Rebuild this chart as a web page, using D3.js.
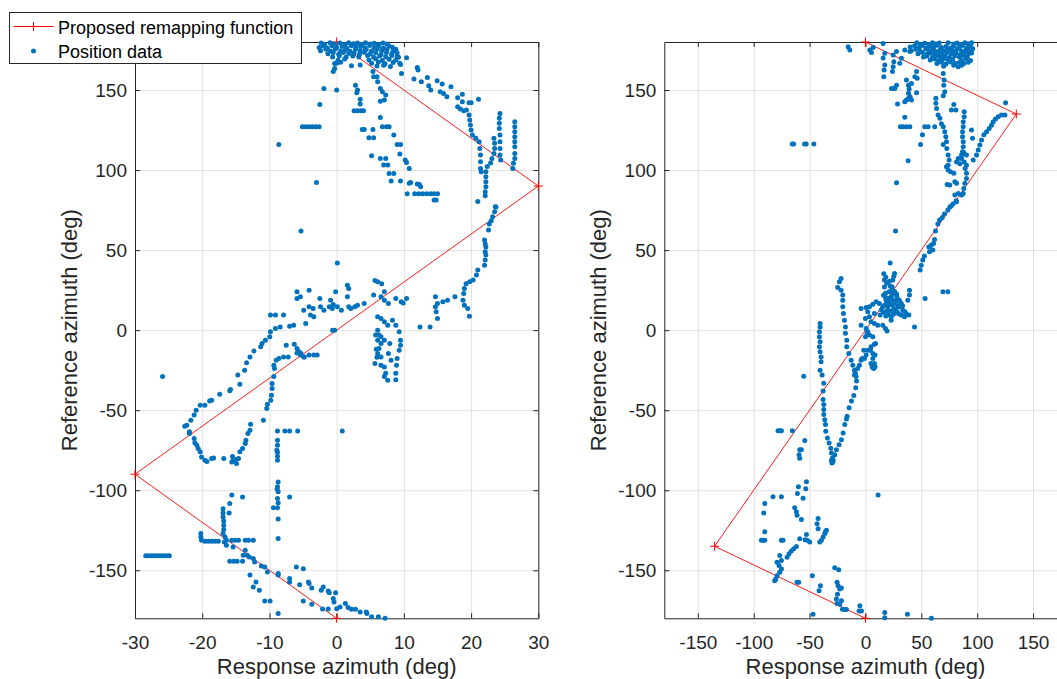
<!DOCTYPE html>
<html>
<head>
<meta charset="utf-8">
<script src="https://cdn.jsdelivr.net/npm/d3@7"></script>
<style>
  body { margin: 0; background: #fff; }
  svg { display: block; font-family: "Liberation Sans", Arial, Helvetica, sans-serif; }
</style>
</head>
<body>
<svg id="chart" width="1057" height="679"></svg>
<script>
// tick values
var yTicks = [-150, -100, -50, 0, 50, 100, 150];
var leftXTicks = [-30, -20, -10, 0, 10, 20, 30];
var rightXTicks = [-150, -100, -50, 0, 50, 100, 150];

// proposed remapping function (corner points)
var leftRemapX = [0, 30, -30, 0];
var leftRemapY = [180, 90, -90, -180];
var rightRemapX = [0, 135, -135, 0];
var rightRemapY = [180, 135, -135, -180];

// position data, left panel [response, reference]
var leftData = [
  // dense cluster near the top
  [-2.3,179.3],[-1.8,178.6],[-1.0,179.5],[-0.3,178.8],[0.5,179.4],[1.2,178.5],[1.8,179.6],[2.5,178.9],[3.1,179.3],[3.7,178.4],[4.3,179.5],[5.0,178.7],[5.6,179.2],[6.2,178.5],[6.9,179.4],[7.5,178.8],
  [-2.6,176.6],[-2.0,177.5],[-1.4,176.3],[-0.7,177.7],[0.0,176.5],[0.8,177.3],[1.5,176.2],[2.2,177.6],[2.9,176.8],[3.6,177.4],[4.2,176.4],[4.9,177.8],[5.6,176.6],[6.3,177.2],[7.0,176.3],[7.8,177.5],[8.3,176.7],
  [-2.4,174.5],[-1.6,175.4],[-0.9,174.3],[-0.2,175.6],[0.6,174.6],[1.3,175.2],[2.0,174.2],[2.8,175.5],[3.5,174.7],[4.4,175.3],[5.2,174.4],[6.0,175.7],[6.7,174.5],[7.5,175.2],[8.4,174.3],[8.8,175.5],
  [-1.3,172.6],[-0.5,173.4],[0.3,172.3],[1.0,173.5],[1.8,172.8],[2.6,173.2],[3.4,172.4],[4.1,173.6],[5.0,172.7],[5.8,173.3],[6.6,172.2],[7.4,173.4],[8.2,172.6],[9.0,173.2],
  [-0.6,170.7],[0.4,171.4],[1.4,170.5],[2.4,171.3],[3.3,170.6],[4.6,171.5],[5.5,170.4],[6.4,171.2],[7.3,170.8],[8.2,171.6],[9.2,170.5],
  [0.2,168.6],[1.2,169.4],[4.8,168.7],[5.8,169.5],[6.8,168.4],[7.8,169.3],[8.8,168.8],
  [-0.3,166.6],[0.6,167.4],[5.2,166.8],[6.2,167.5],[7.2,166.4],[8.4,167.2],[9.4,166.7],
  [2.2,165.2],[3.5,165.6],[6.0,165],[7.0,165.4],[8.0,164.7],
  [10.4,170.2],[9.0,170.8],[9.5,166],[9.65,160.4],[-0.5,161.5],[0,166.7],[-0.3,163.5],
  // first descending column
  [5.4,161.5],[5.5,158.3],[6.0,158.3],[6.1,155.2],[6.5,151],[6.8,149],[7.3,146.9],[7.1,143.75],[6.5,143],[6.5,132.9],
  [6.8,127],[7.4,127.1],[7.8,127],[8.5,121.9],[9,116],[9.5,116],[9.4,110],[10.2,106.25],[10.4,104.8],[10.8,101],
  [11,92.3],[10.8,91.8],[12,91.3],[12.3,91],[12.5,89.6],[10.5,85.2],[11.6,85.2],[12.2,85.2],[12.8,85.2],[13.4,85.2],[14,85.2],[14.5,85.2],[15,85.2],[14.5,81.25],[14.8,81.25],
  // second descending column
  [2.8,153],[3.1,150],[3.0,148.3],[3.5,144.2],[3.5,141.25],[2.6,137.1],[3.1,137.1],[3.6,137.1],[4.0,137.1],
  [3.8,125.4],[4.1,125.4],[5.4,125.4],[4.8,120.2],[5.5,120.2],[5.2,109],[6.5,107.3],[7.3,107.3],[7.0,103.1],[7.6,103.1],
  [7.8,97.9],[8.5,97.9],[8.1,93.1],[9.5,93.1],
  // scattered upper left
  [-5.1,127],[-4.6,127],[-4.1,127],[-3.6,127],[-3.1,127],[-2.6,127],[-2.5,141],[-1.9,151],[-3.0,92.3],[0,150],[-8.6,116],[-5.3,62],
  // group right of the cluster
  [12,164],[12.1,162.5],[11.5,156.9],[12.6,155.2],[13.5,157.9],[13.7,152.7],[14,150],[14.95,155.8],[15.7,153.75],[15.4,149],
  [15.9,147.9],[16.4,145.8],[17.0,152],[18,145.2],[18.7,147.3],[18.7,142.7],[18,139.6],[18.4,138.1],[18.9,137.1],[19.3,137.5],
  [19.7,142],[20,142],[21.1,144.2],
  // vertical columns near the right edge
  [19.7,134.4],[19.8,131.3],[19.9,128.1],[20,125],[20.2,121.9],[20.7,119.8],[21.2,117.7],[21.3,113.5],[21.4,109.4],[21.4,105.2],[21.4,101],[21.5,99],
  [22.2,99],[22.2,95.8],[22.2,92.7],[22.2,89.6],[22.1,86.5],[22.1,84],
  [22.4,102.3],[22.9,104.4],[23.1,107.3],[23.4,110.4],[23.5,113.5],[23.5,116.7],[23.4,119.8],
  [24.3,135.4],[24.2,132.3],[24.2,129.2],[24.2,126],[24.3,121.9],[24.3,117.7],[24.3,113.5],[24.3,109.4],[24.4,106.25],
  [26.5,130.2],[26.5,127.1],[26.5,124],[26.5,120.8],[26.5,117.7],[26.5,114.6],[26.5,110.4],[26.5,107.3],[26.3,104.2],[26.2,101],
  [23.6,77.1],[21.0,80.4],
  // band along the rising line
  [23.7,77],[23.5,74],[23.2,70.8],[23,68.3],[22.7,66.3],[22.6,62.5],[22,56.25],[22.1,54],[22.2,52],[22.1,49],[22.2,46.9],[22.1,43.75],[22,40.6],
  [21,37.5],[20.8,34.4],[20.3,31.3],[19.8,30.2],[19.25,29],[19,26],[18.9,22.9],[18.8,18.75],[19,15.6],[19.5,13.5],[19.75,8.75],
  [17.6,20.8],[16.5,18.75],[15.8,17.7],[15,16.7],[14.7,20.8],[14.7,14.6],[14.8,11.5],[15,7.3],[13.9,2],[12.4,2],
  // loop around x = 7
  [5.7,31],[6.1,30.2],[6.7,29],[5.5,21.9],[6.6,20.8],[7.1,18.75],[7.7,16.7],[7.1,24],[8.8,19.8],[9.6,17.7],[10.4,19.8],[9.9,17],
  [6.1,8.3],[6.6,7.3],[7.1,5.2],[7.6,3],[8.3,6.25],[8.8,3],[9.3,-1],[9.5,-6.25],[9.5,-9.4],[9.3,-12.5],[9,-17.7],[8.9,-21.9],[8.8,-27],[8.8,-31],
  [6.1,0],[6.3,-3],[6.1,-6.25],[6.6,-8.3],[6.3,-11.5],[6.1,-14.6],[6.6,-16.7],[5.7,-20.8],[6.6,-21.9],[7.1,-23],[7.3,-27],[7.6,-31.25],[7.1,-29],
  [5.8,-3],[6.6,-4.2],[7.1,-6.25],[7.9,-8.3],[7.7,-14.6],[8.1,-18.75],[5.9,-12],[6.0,-17],
  // cluster left of zero
  [-9.85,9.4],[-9.1,9.4],[-7.9,9.4],[-5.9,24],[-5.4,20.8],[-4.1,25],[-5.9,19.8],[-4.9,12.5],[-4.1,14.6],[-3.9,9.4],[-3.4,8.3],[-3.5,13.5],[-4.6,4.2],
  [-2.5,19.8],[-2.4,14.6],[-1.9,12.5],[-1.1,14.6],[-0.65,13.5],[-0.9,18.75],[-0.5,16],[-0.15,24],[0.1,14.6],[0.7,12.5],
  [1.6,28],[1.8,26],[1.6,20.8],[1.8,14.6],[2.1,13.5],[2.7,14.6],[3.1,15.6],[4.1,16.7],[-0.6,0],[-0.3,0],[0.1,42],
  // descending band to the left
  [-6.4,3],[-7,2.5],[-8.4,2],[-9.1,1],[-9.85,-1],[-9.95,-4.2],[-10.6,-6.25],[-11.1,-8.3],[-11.3,-10.4],[-12.3,-13],[-12.9,-16.7],
  [-13.4,-20.4],[-13.7,-25],[-14.7,-28],[-14.4,-33.75],[-15.8,-37],[-25.9,-29],
  [-7.5,-9.4],[-6.3,-8.75],[-5.9,-11.5],[-5.6,-13.5],[-5.4,-15.6],[-4.9,-16.7],[-4.1,-15.6],[-3.4,-15.6],[-2.9,-15.6],[-7.2,-16.7],
  [-7.9,-16.7],[-8.6,-17.7],[-9,-18.75],[-9.35,-21.9],[-9.25,-24],[-9.35,-29],[-9.6,-33.3],[-9.6,-36.5],[-5.9,-14.2],[-5.3,-14.6],[-4.8,-16.7],
  // loop lower left
  [-15.9,-37.9],[-17.4,-40],[-18.6,-43.75],[-18.9,-44.2],[-19.6,-46.9],[-20.3,-46.9],[-20.9,-50],[-21.2,-53],[-21.7,-56.25],[-22.3,-59.4],
  [-22.6,-60],[-21.9,-63.5],[-21.9,-64.6],[-21.2,-67.7],[-21.1,-70.4],[-20.8,-71.9],[-20.6,-74],[-20.3,-76],[-20.1,-79.2],[-19.6,-81.25],
  [-19.3,-82],[-18.6,-80.2],[-18.3,-79.8],[-16.8,-80.2],[-15.6,-82.3],[-15.4,-81.25],[-15,-80.8],[-14.6,-80.2],[-14.9,-83.3],[-15.5,-79],
  [-14.4,-76],[-14,-74],[-13.6,-70.8],[-13.5,-68.75],[-13.2,-64.6],[-12.9,-62.5],[-12.8,-58.75],[-10.9,-56.25],
  [-10.4,-49],[-10.3,-46.25],[-9.8,-43.75],[-9.7,-40.6],
  // vertical near x = -9
  [-8.8,-63],[-7.7,-63],[-7,-63],[-5.8,-63],[0.84,-63],[-8.8,-68.75],[-8.8,-71.9],[-8.9,-75],[-8.8,-76.3],[-8.8,-78.75],[-8.8,-81.25],
  [-8.7,-94.8],[-8.8,-97.9],[-8.85,-99.4],[-8.7,-101],[-8.8,-105.2],[-8.7,-108],[-9.4,-111],[-8.8,-111],[-8.7,-118],[-8.7,-130.2],
  [-7,-104.2],[-8.7,-153],[-8.7,-152],
  // lower group
  [-15.6,-103],[-15.9,-108.3],[-16,-114.2],[-14,-104.2],
  [-16.9,-111.5],[-16.9,-114.2],[-16.9,-116.7],[-16.8,-119.2],[-16.8,-121.9],[-16.8,-124.6],[-16.9,-127.1],[-16.6,-129.2],[-16.7,-132.3],[-16.4,-134.4],
  [-20.2,-127],[-20.2,-129.2],[-20.1,-131.25],[-19.6,-131.9],[-19.1,-131.9],[-18.6,-131.9],[-18.1,-131.9],[-17.6,-131.9],
  [-16.4,-131.25],[-15.6,-131.25],[-15.1,-131.25],[-14.6,-131.25],[-13.6,-131.25],[-13.1,-131.25],[-12.4,-131.25],
  [-15.4,-135.4],[-13.6,-137.5],[-13.3,-140.6],[-13.9,-140.6],[-15.9,-144.4],[-15.3,-144.4],[-14.8,-144.4],[-14,-144.4],
  [-13,-141.7],[-12.4,-142.7],[-12.2,-144.8],[-11.2,-147.3],[-10.7,-148],[-10.3,-151],
  [-28.4,-141],[-28,-141],[-27.6,-141],[-27.2,-141],[-26.8,-141],[-26.4,-141],[-26,-141],[-25.6,-141],[-25.2,-141],[-24.9,-141],
  [-12.9,-153],[-12,-157.3],[-12.4,-160.4],[-11.5,-162.5],[-10.7,-169.2],[-9.9,-169.2],[-7,-155.2],[-7,-157.3],[-6,-148],[-4.96,-149],
  [-5.5,-159],[-4.2,-157.3],[-4.1,-158.3],[-3.7,-161],[-4.96,-169.2],[-3.7,-171.25],[-2.3,-162.5],[-2,-160.4],[-1.25,-163],[-1.1,-164],
  [-0.15,-164],[-2.1,-174.2],[-1.25,-174.2],[-0.5,-167.7],[-0.4,-169.8],[0,-174],[0.5,-173],[1.3,-170.8],[1.7,-173.3],[2.2,-174.4],
  [2.8,-174.4],[3.5,-176],[4.4,-176],[4.5,-177],[5.2,-179],[6.2,-179],[7.2,-180],[-8.7,-177]
];

// position data, right panel [response, reference]
var rightData = [
  // dense cluster near the top
  [46,179.5],[49,178.6],[53,179.2],[57,178.4],[60,179.6],[63,178.8],[66,179.3],[74,179.6],[79,178.7],[82,179.4],[85,178.5],[89,179.5],[92,178.9],[95,179.6],
  [40,176.8],[44,177.6],[48,176.4],[51,177.8],[55,176.2],[58,177.5],[61,176.6],[64,177.9],[68,176.5],[72,177.2],[76,176.3],[79,177.7],[84,176.9],[87,177.8],[91,176.4],[94,177.3],
  [41,174.6],[45,175.4],[49,174.2],[54,175.6],[57,174.5],[60,175.3],[63,174.1],[67,175.5],[70,174.4],[74,175.2],[78,174.7],[82,175.7],[86,174.3],[90,175.1],[93,174.6],[96,175.8],
  [47,172.7],[51,173.5],[55,172.4],[58,173.2],[62,172.8],[65,173.6],[68,172.3],[73,173.4],[77,172.6],[81,173.3],[85,172.2],[89,173.5],[92,172.5],[95,173.1],
  [52,170.6],[55,171.3],[60,170.4],[64,171.5],[67,170.8],[71,171.2],[75,170.3],[80,171.4],[84,170.7],[88,171.6],[91,170.5],
  [58,168.7],[62,169.4],[66,168.5],[70,169.6],[74,168.8],[78,169.2],[86,168.6],[90,169.5],[94,168.4],
  [64,166.6],[68,167.3],[72,166.2],[76,167.5],[80,166.8],[84,167.2],[88,166.5],[92,167.4],
  [70,164.8],[79,165.4],[83,164.6],[86,165.5],
  // scattered upper left
  [-15.5,177],[-14,175],[3.9,175],[5.4,173.5],[6.9,176.6],[15.8,179],[17.3,173],[15.8,170],[17.3,165.6],[16.7,162.5],[16.4,158.3],
  [24.8,171.9],[25.4,167.7],[24.8,164.6],[24.2,161.5],[27.8,174],[32.2,169.8],[30.7,166.7],[35.2,175],[39.7,174],
  [45.7,161.5],[44.2,158.3],[46.3,157.3],[36.7,156.25],[38.5,153],[41.2,154],[39.1,150.6],[27.8,153],[24.8,151],[23.3,151],[26.3,151],
  [45.7,148.3],[38.5,148],[40,145.8],[36.7,143.75],[35.2,142.7],[38.5,144.8],[41.2,143.75],[28.7,141.25],[35.2,133],
  [31.3,127],[33.4,127],[36.4,127],[39.7,127],[53.1,127],[56.1,127],[62,127],[51,122],[49.3,116],[38.2,105.8],[27.8,92],
  [-65.5,116.25],[-64.3,116.25],[-54.5,116.25],[-53,116.25],[-46.2,116.25],
  // strands below the cluster
  [69.6,160.4],[70.4,156.25],[70.1,153],[71,149],[69.6,146.5],
  [63,144.8],[63,141.7],[63.6,138.5],[65,134.4],[66.6,132.3],[68,129],[69.6,127],[71,124],[71.9,120.8],[72.5,117.7],
  [69.6,116],[72.8,113.5],[74,109.4],[74.9,106.25],[74,103],[72.5,102],[74,100],[76.1,99],[79.1,98],
  [79.1,141],[76.9,137.5],[80.9,137.5],
  [88.4,136.5],[88.4,133.3],[87.5,130.2],[87.5,127],[86.9,124],[86.9,120.8],[87.5,117.7],[87.5,114.6],[86.9,111.5],[86,109.4],
  [86,107.3],[88,111],[90.4,109.4],[83,107.3],[81.5,105],[84.5,104],[88.4,105],[90.4,103],[89.2,101],
  [94.9,125],[95.8,119.8],
  [96.4,106.25],[99.4,109.4],[100.9,112.5],[102.4,115.6],[103.9,118.75],[106,122],[108.4,124],[110.7,126],[112.8,128],
  [114.3,130.2],[116.4,131.9],[118.8,133.3],[121.8,134.4],[124.8,134.4],[125.4,142],
  [90.4,98],[90.4,94.8],[89,91.7],[88,88.5],[87.5,85.4],[86,84.4],[83,85.4],[80,84.4],[81.5,80.2],[78.5,79],[75.5,77],
  [73.1,91],[75.5,90.6],[80,92.7],[81.5,91.7],
  // along the rising line
  [81.2,80.8],[76.7,77.5],[73.7,75],[70.7,72.5],[68.7,70.4],[66.3,68.75],[64.8,66.25],[62.7,62],[61.8,56.7],[60.9,54.2],
  [58.8,53],[56.7,52],[60.3,50],[57.3,49],[52.8,46.25],[51.3,43.75],[49.9,40.6],[48.9,37.5],
  [26.9,62],[22.1,42],[69.3,24],[73.7,24],[53.4,19.8],[43.9,2],
  // dense area around the origin
  [26,35.4],[24.5,31.25],[23.9,27],[23,20.8],[24.5,18.75],[27.5,16.7],[30.4,14.6],[33.4,12.5],[36.4,10.4],[38.8,9.4],[31.9,9.4],[34.9,8.3],
  [17,31.25],[17,27],[17.9,23],[18.5,18.75],[17,15.6],[20,14.6],[15.5,14.6],[12.5,16.7],[9.6,17.7],[6.6,16.25],[3.6,14.6],[0.6,14.2],[-3.9,13.5],
  [23,8.3],[23,6.25],[17.9,1],[15.5,3],[39.4,25],[39.4,21.9],[37.9,18.75],[28.1,20.8],[30.4,18.75],[29,14.6],[32,16.7],
  [20,20],[21,24],[19,12],[22,12],[25,10],
  [16.2,21.8],[18.1,20.4],[19.3,16.9],[21.2,16.1],[22.3,18.2],[24.1,15.8],[25.3,13.6],[26.2,12.1],[27.1,18.3],[28.2,11.7],
  [20.3,9.6],[18.2,8.8],[16.1,11.2],[14.2,12.8],[13.1,9.4],[24.2,22.3],[26.1,24.2],[22.2,27.4],[19.1,29.3],[18.2,33.1],
  [25.4,33.6],[16.4,35.2],[21.5,30.6],[23.6,24.8],[27.8,22.6],[33.2,15.2],[35.1,11.6],[29.6,10.2],
  [2.1,11.5],[3.6,8.3],[0,7.3],[5,5.2],[8,4.2],[11,3.1],[8,10.4],[-3.9,3],[0.6,1],[2.1,-1],[0,-4.2],[3.6,-3.1],[6.6,-4.2],
  [8,-8.75],[5,-10.4],[2.1,-12.5],[0.6,-15.6],[-0.9,-17.7],[-3.9,-18.75],[-5.4,-21.9],[-6.9,-24],[-9,-27],[-8.4,-29],
  [6.6,-14.6],[6.6,-17.7],[5,-20.8],[6,-23],[9,-8.3],[4.5,-12.5],[8.6,-15.6],[8,-20.8],[8.6,-22.9],[7.4,-24],[1.5,-2],[19.3,-0.6],
  [-1.5,-12.5],[-3,-17.7],
  // curved strand left of the line
  [-21.8,32.3],[-23.3,30.2],[-24.8,26.7],[-21.8,25],[-20.3,21.9],[-20.3,18.75],[-20.3,14.6],[-19.7,10.4],[-18.8,6.25],[-17.9,2],
  [-17.9,-2],[-16.7,-6.25],[-16.7,-10.4],[-14.9,-14.6],[-12.8,-18.75],[-11.3,-21.9],[-9.9,-25],[-9.9,-28],
  [-40.6,4.2],[-40.6,2],[-41.2,-1],[-41.2,-4.2],[-40.6,-7.3],[-41.2,-10.4],[-40.6,-13.5],[-39.7,-16.7],[-39.7,-19.8],[-40.6,-25],[-38.8,-28],
  [-55.2,-28.75],
  // V shape
  [-37.3,-33.2],[-37.9,-38],[-37.9,-43.3],[-37.3,-46.4],[-37.3,-49.6],[-37.3,-52.7],[-36.4,-55.9],[-35.8,-59],[-35.5,-63.2],[-34,-67.4],
  [-32.5,-70.5],[-31,-73.7],[-30.4,-76.8],[-29.6,-80],[-29.9,-83],[-29,-82],[-30.5,-81.5],
  [-8,-31.8],[-8.7,-36],[-10.4,-40.8],[-12.5,-44.3],[-14.6,-48.5],[-16.4,-53.8],[-17,-55.5],[-18.5,-59],[-20,-64.3],[-21.5,-68.4],
  [-23.6,-71.6],[-26,-74.7],[-27.5,-77.9],[-29,-81],
  // lower left scatter
  [-78.2,-62.8],[-76.7,-62.8],[-75.2,-62.8],[-65.4,-62.8],[-54.3,-68.9],[-58.8,-74.7],[-57.3,-74.7],[-59.4,-77.9],[-58.8,-80],
  [-52.8,-94.7],[-60,-97.8],[-53.4,-99],[-60.9,-102],[-55.8,-105],[-63.3,-111],[-61.8,-113.5],[-61.2,-115.6],[-57.3,-118.3],
  [-82.7,-104],[-75.2,-104],[-90.1,-108.3],[-91,-114.2],[-93.1,-131.3],[-91.6,-131.3],[-90.1,-131.3],[-90.1,-126],
  [-75.2,-131.3],[-73.7,-131.3],[-58.8,-130.3],[-52.8,-127.6],[-52.2,-131.3],[-49.9,-132.4],[-54,-131],
  [-42.4,-117.7],[-43.3,-120.9],[-42.4,-124],[-40.9,-132.4],[-34.9,-125],[-36.4,-127],[-37.9,-129.2],[-39.4,-131.3],[-35.8,-126],
  [-61.8,-135.1],[-64.2,-136.6],[-66.3,-138],[-68.4,-139.7],[-70.1,-141.8],[-76.7,-140.8],[-75.2,-143.9],[-77.3,-147],[-79.1,-145],
  [-75.2,-149.2],[-76.7,-151.3],[-79.1,-153.4],[-81.2,-156.5],[-80.3,-155.4],[-61.2,-157.5],[-59.7,-157.5],[-47.5,-153.4],
  [-41.5,-162.8],[-40.3,-159.6],[-46.9,-177.5],[-27.5,-148.5],[-23.9,-149.6],[-25.4,-157.5],[-24.5,-159.6],[-23,-161.7],[-21.5,-161],
  [-25,-164.9],[-26,-168],[-25.4,-170.8],[-23,-171.2],[-20.6,-174.3],[-18.5,-174.5],[-17,-174.5],[-21.5,-169],
  [-5,-172.2],[-5.7,-175.4],[-3.6,-175.4],[17.3,-176.4],[17.3,-179.6],[37.6,-177.5],[59,-180],[11.3,-103]
];

var RED = "#ff0000", BLUE = "#0072bd", INK = "#262626";
var svg = d3.select("#chart");
var yScale = d3.scaleLinear().domain([-180, 180]).range([618.3, 42]);
var plusPath = "M-4.5,0H4.5M0,-4.5V4.5";

function drawPanel(xDomain, xRange, xTicks, remapX, remapY, data, yLabelX) {
  var x = d3.scaleLinear().domain(xDomain).range(xRange);
  var top = yScale.range()[1], bottom = yScale.range()[0];
  var left = xRange[0], right = xRange[1];
  var g = svg.append("g");

  // grid
  var gx = g.append("g").attr("transform", "translate(0," + bottom + ")")
    .call(d3.axisBottom(x).tickValues(xTicks).tickSize(-(bottom - top)).tickFormat(""));
  var gy = g.append("g").attr("transform", "translate(" + left + ",0)")
    .call(d3.axisLeft(yScale).tickValues(yTicks).tickSize(-(right - left)).tickFormat(""));
  [gx, gy].forEach(function(s) {
    s.select(".domain").remove();
    s.selectAll("line").style("stroke", "#e1e1e1").style("stroke-width", 1);
  });

  // axes with inward ticks
  var fmt = function(d) { return String(d); };
  var ab = g.append("g").attr("transform", "translate(0," + bottom + ")")
    .call(d3.axisBottom(x).tickValues(xTicks).tickSize(-5).tickSizeOuter(0).tickPadding(17).tickFormat(fmt));
  var at = g.append("g").attr("transform", "translate(0," + top + ")")
    .call(d3.axisTop(x).tickValues(xTicks).tickSize(-5).tickSizeOuter(0).tickFormat(""));
  var al = g.append("g").attr("transform", "translate(" + left + ",0)")
    .call(d3.axisLeft(yScale).tickValues(yTicks).tickSize(-5).tickSizeOuter(0).tickPadding(8).tickFormat(fmt));
  var ar = g.append("g").attr("transform", "translate(" + right + ",0)")
    .call(d3.axisRight(yScale).tickValues(yTicks).tickSize(-5).tickSizeOuter(0).tickFormat(""));
  [ab, at, al, ar].forEach(function(s) {
    s.attr("font-family", null).attr("font-size", null);
    s.select(".domain").style("stroke", INK);
    s.selectAll("line").style("stroke", INK);
    s.selectAll("text").style("fill", INK).style("font-size", "19px");
  });

  // axis labels
  g.append("text")
    .attr("x", (left + right) / 2).attr("y", 673.5)
    .attr("text-anchor", "middle").style("fill", INK).style("font-size", "22px")
    .text("Response azimuth (deg)");
  g.append("text")
    .attr("transform", "translate(" + yLabelX + "," + ((top + bottom) / 2) + ") rotate(-90)")
    .attr("text-anchor", "middle").style("fill", INK).style("font-size", "22px")
    .text("Reference azimuth (deg)");

  // remapping function
  var idx = d3.range(remapX.length);
  var line = d3.line()
    .x(function(i) { return x(remapX[i]); })
    .y(function(i) { return yScale(remapY[i]); });
  g.append("path")
    .attr("d", line(idx))
    .style("fill", "none").style("stroke", RED).style("stroke-width", 0.9);
  g.selectAll("path.plus")
    .data(idx).enter().append("path")
    .attr("class", "plus")
    .attr("d", plusPath)
    .attr("transform", function(i) { return "translate(" + x(remapX[i]) + "," + yScale(remapY[i]) + ")"; })
    .style("stroke", RED).style("stroke-width", 1).style("fill", "none");

  // position data
  g.selectAll("circle.pos")
    .data(data).enter().append("circle")
    .attr("class", "pos")
    .attr("r", 2.5)
    .attr("cx", function(d) { return x(d[0]); })
    .attr("cy", function(d) { return yScale(d[1]); })
    .style("fill", BLUE);
}

drawPanel([-30, 30], [135, 538.3], leftXTicks, leftRemapX, leftRemapY, leftData, 77);
drawPanel([-180, 180], [664.3, 1066.6], rightXTicks, rightRemapX, rightRemapY, rightData, 606);

// legend
var lg = svg.append("g");
lg.append("rect")
  .attr("x", 9.5).attr("y", 12.5).attr("width", 292).attr("height", 51)
  .style("fill", "#fff").style("stroke", INK).style("stroke-width", 1);
lg.append("path")
  .attr("d", "M13.5,26.5H53.5")
  .style("fill", "none").style("stroke", RED).style("stroke-width", 1);
lg.append("path")
  .attr("d", plusPath).attr("transform", "translate(33.5,26.5)")
  .style("stroke", RED).style("stroke-width", 1).style("fill", "none");
lg.append("circle")
  .attr("cx", 33.5).attr("cy", 51).attr("r", 2.5).style("fill", BLUE);
lg.append("text")
  .attr("x", 58).attr("y", 34).style("fill", "#000").style("font-size", "18px")
  .text("Proposed remapping function");
lg.append("text")
  .attr("x", 58).attr("y", 57.7).style("fill", "#000").style("font-size", "18px")
  .text("Position data");
</script>
</body>
</html>
